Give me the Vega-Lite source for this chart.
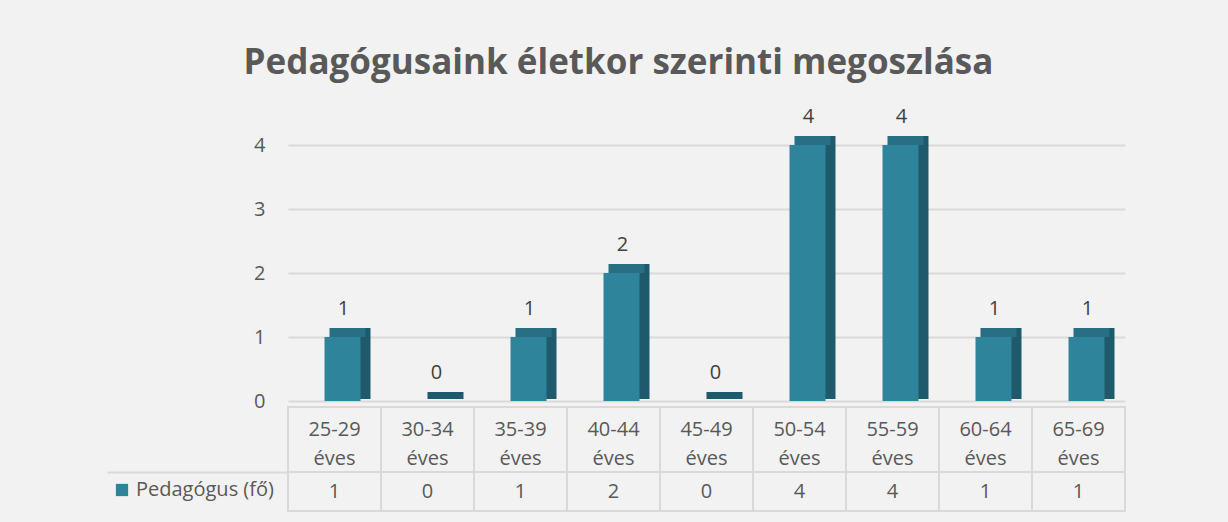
{
  "$schema": "https://vega.github.io/schema/vega-lite/v6.json",
  "autosize": {"type": "none"},
  "padding": {"left": 288, "top": 145, "right": 103, "bottom": 11},
  "width": 837,
  "height": 366,
  "background": "#f2f2f2",
  "config": {"view": {"stroke": null}, "font": "Open Sans"},
  "title": {
    "text": "Pedagógusaink életkor szerinti megoszlása",
    "font": "Open Sans",
    "fontSize": 35,
    "fontWeight": "bold",
    "color": "#595959",
    "anchor": "middle",
    "dx": -88,
    "offset": 26
  },
  "data": {
    "values": [
      {"age": "25-29 éves", "n": 1},
      {"age": "30-34 éves", "n": 0},
      {"age": "35-39 éves", "n": 1},
      {"age": "40-44 éves", "n": 2},
      {"age": "45-49 éves", "n": 0},
      {"age": "50-54 éves", "n": 4},
      {"age": "55-59 éves", "n": 4},
      {"age": "60-64 éves", "n": 1},
      {"age": "65-69 éves", "n": 1}
    ]
  },
  "encoding": {
    "x": {"field": "age", "type": "nominal", "sort": null, "scale": {"paddingInner": 0, "paddingOuter": 0}, "axis": null}
  },
  "layer": [
    {
      "mark": {"type": "bar", "color": "#1e5a6b", "width": 36, "xOffset": 18, "yOffset": -9, "y2Offset": -2},
      "encoding": {
        "y": {
          "field": "n", "type": "quantitative",
          "scale": {"domain": [-1.71875, 4], "nice": false, "zero": false},
          "axis": {
            "title": null,
            "values": [0, 1, 2, 3, 4, -1.109, -1.719],
            "format": "d",
            "labelExpr": "datum.value < 0 ? '' : datum.label",
            "domain": false,
            "grid": true,
            "gridColor": "#d9d9d9",
            "gridWidth": 2,
            "gridOpacity": {"condition": {"test": "datum.value < 0", "value": 0}, "value": 1},
            "ticks": true,
            "tickSize": 181,
            "tickWidth": 2,
            "tickColor": {"condition": {"test": "datum.value < 0", "value": "#d9d9d9"}, "value": "transparent"},
            "labelPadding": -158,
            "labelFont": "Open Sans",
            "labelFontSize": 20,
            "labelColor": "#595959"
          }
        },
        "y2": {"datum": 0}
      }
    },
    {
      "transform": [{"filter": "datum.n > 0"}],
      "mark": {"type": "bar", "color": "#286f83", "width": 36, "xOffset": 13, "yOffset": -9},
      "encoding": {
        "y": {"field": "n", "type": "quantitative"},
        "y2": {"field": "n"}
      }
    },
    {
      "mark": {"type": "bar", "width": 36, "xOffset": 8},
      "encoding": {
        "y": {"field": "n", "type": "quantitative"},
        "y2": {"datum": 0},
        "color": {
          "datum": "Pedagógus (fő)",
          "type": "nominal",
          "scale": {"range": ["#2e849b"]},
          "legend": {
            "title": null,
            "orient": "none",
            "legendX": -176,
            "legendY": 335,
            "symbolType": "square",
            "symbolSize": 150,
            "symbolStrokeWidth": 0,
            "labelFont": "Open Sans",
            "labelFontSize": 20,
            "labelColor": "#595959",
            "padding": 0
          }
        }
      }
    },
    {
      "mark": {"type": "text", "font": "Open Sans", "fontSize": 20, "color": "#404040", "baseline": "middle", "xOffset": 9, "yOffset": -28},
      "encoding": {
        "y": {"field": "n", "type": "quantitative"},
        "text": {"field": "n", "type": "quantitative"}
      }
    },
    {
      "mark": {"type": "rect", "fill": "#f2f2f2", "stroke": "#d9d9d9", "strokeWidth": 2},
      "encoding": {
        "y": {"datum": -0.094},
        "y2": {"datum": -1.109}
      }
    },
    {
      "mark": {"type": "rect", "fill": "#f2f2f2", "stroke": "#d9d9d9", "strokeWidth": 2},
      "encoding": {
        "y": {"datum": -1.109},
        "y2": {"datum": -1.719}
      }
    },
    {
      "mark": {"type": "text", "font": "Open Sans", "fontSize": 20, "color": "#595959", "baseline": "middle", "lineBreak": " ", "lineHeight": 29},
      "encoding": {
        "y": {"datum": -0.453},
        "text": {"field": "age", "type": "nominal"}
      }
    },
    {
      "mark": {"type": "text", "font": "Open Sans", "fontSize": 20, "color": "#595959", "baseline": "middle"},
      "encoding": {
        "y": {"datum": -1.42},
        "text": {"field": "n", "type": "quantitative"}
      }
    }
  ]
}
